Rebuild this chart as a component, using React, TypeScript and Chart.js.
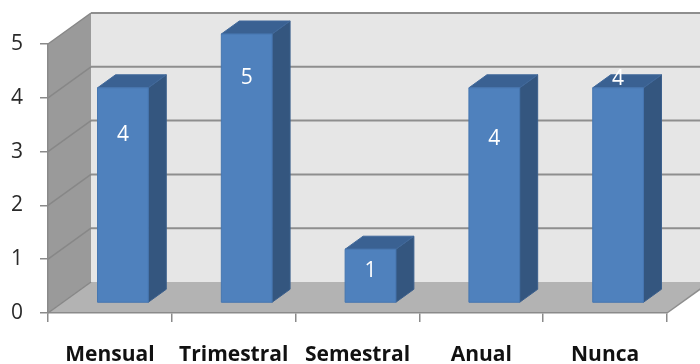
import React, { useEffect, useRef } from 'react';
import { Chart, registerables } from 'chart.js';

Chart.register(...registerables);

// ---- data ----
const categories = ['Mensual', 'Trimestral', 'Semestral', 'Anual', 'Nunca'];
const counts = [4, 5, 1, 4, 4];
const yTickValues = [0, 1, 2, 3, 4, 5];

// ---- 3D look ----
const WALL = { dx: 43, dy: -31 };        // depth of the box (floor / back wall)
const BAR_SHIFT = { dx: 13, dy: -10 };   // bars sit a little inside the box
const BAR_DEPTH = { dx: 18, dy: -13 };   // thickness of each column
const LABEL_DROP = [47, 44, 22, 51, -9]; // where each value label sits below the column top

const FONT = "'Open Sans', 'Liberation Sans', sans-serif";

type Pt = [number, number];

function fillPoly(ctx: CanvasRenderingContext2D, pts: Pt[], fill: string, stroke?: string, lw = 1) {
  ctx.beginPath();
  ctx.moveTo(pts[0][0], pts[0][1]);
  for (let i = 1; i < pts.length; i++) ctx.lineTo(pts[i][0], pts[i][1]);
  ctx.closePath();
  ctx.fillStyle = fill;
  ctx.fill();
  if (stroke) {
    ctx.strokeStyle = stroke;
    ctx.lineWidth = lw;
    ctx.stroke();
  }
}

function line(ctx: CanvasRenderingContext2D, a: Pt, b: Pt, color: string, lw: number) {
  ctx.beginPath();
  ctx.moveTo(a[0], a[1]);
  ctx.lineTo(b[0], b[1]);
  ctx.strokeStyle = color;
  ctx.lineWidth = lw;
  ctx.stroke();
}

const wallsPlugin = {
  id: 'walls3d',
  beforeDraw(chart: any) {
    const { ctx, chartArea, scales } = chart;
    const y = scales.y;
    const L = chartArea.left;
    const R = chartArea.right;
    const T = y.getPixelForValue(y.max);
    const B = y.getPixelForValue(0);
    const { dx, dy } = WALL;
    ctx.save();
    // side wall
    fillPoly(ctx, [[L, T], [L + dx, T + dy], [L + dx, B + dy], [L, B]], '#9a9a9a');
    // back wall
    fillPoly(ctx, [[L + dx, T + dy], [R + dx, T + dy], [R + dx, B + dy], [L + dx, B + dy]], '#e6e6e6');
    // floor
    fillPoly(ctx, [[L, B], [R, B], [R + dx, B + dy], [L + dx, B + dy]], '#b3b3b3');
    // gridlines on the walls
    y.ticks.forEach((t: any) => {
      const py = y.getPixelForValue(t.value);
      if (t.value > 0) line(ctx, [L + dx, py + dy], [R + dx + 2, py + dy], '#8e8e8e', 2);
      line(ctx, [L, py], [L + dx, py + dy], '#878787', 1.5);
    });
    line(ctx, [R, B], [R + dx, B + dy], '#8e8e8e', 1.5);
    ctx.restore();
  },
};

const columnsPlugin = {
  id: 'columns3d',
  afterDatasetsDraw(chart: any) {
    const { ctx } = chart;
    const meta = chart.getDatasetMeta(0);
    const values = chart.data.datasets[0].data as number[];
    ctx.save();
    meta.data.forEach((bar: any, i: number) => {
      const { x, y, base, width } = bar.getProps(['x', 'y', 'base', 'width'], true);
      const l = x - width / 2 + BAR_SHIFT.dx;
      const r = x + width / 2 + BAR_SHIFT.dx;
      const t = y + BAR_SHIFT.dy;
      const b = base + BAR_SHIFT.dy;
      const { dx, dy } = BAR_DEPTH;
      // right face
      fillPoly(ctx, [[r, t], [r + dx, t + dy], [r + dx, b + dy], [r, b]], '#34567f', '#3b5f8c', 1);
      // top face
      fillPoly(ctx, [[l, t], [l + dx, t + dy], [r + dx, t + dy], [r, t]], '#3a6192', '#41699b', 1);
      // front face
      fillPoly(ctx, [[l, t], [r, t], [r, b], [l, b]], '#4f81bd', '#4676b0', 1);

      // value label
      ctx.fillStyle = '#ffffff';
      ctx.font = `500 21px ${FONT}`;
      ctx.textAlign = 'center';
      ctx.textBaseline = 'middle';
      ctx.fillText(String(values[i]), (l + r) / 2, t + LABEL_DROP[i]);
    });
    ctx.restore();
  },
};

export default function App() {
  const canvasRef = useRef<HTMLCanvasElement | null>(null);

  useEffect(() => {
    const canvas = canvasRef.current;
    if (!canvas) return;
    const chart = new Chart(canvas, {
      type: 'bar',
      data: {
        labels: categories,
        datasets: [
          {
            label: 'Frecuencia',
            data: counts,
            backgroundColor: 'rgba(0,0,0,0)',
            borderWidth: 0,
            categoryPercentage: 1,
            barPercentage: 0.41,
          },
        ],
      },
      options: {
        responsive: false,
        animation: false,
        devicePixelRatio: 1,
        events: [],
        layout: { padding: { top: 44, right: 33, left: 0, bottom: 0 } },
        plugins: {
          legend: { display: false },
          tooltip: { enabled: false },
          title: { display: false },
        },
        scales: {
          x: {
            offset: true,
            grid: {
              offset: true,
              drawOnChartArea: false,
              drawTicks: true,
              tickLength: 9,
              color: '#8a8a8a',
              lineWidth: 1.5,
            },
            border: { color: '#8a8a8a', width: 1.5 },
            ticks: {
              autoSkip: false,
              maxRotation: 0,
              padding: 20,
              color: '#111111',
              font: { family: FONT, size: 21, weight: 'bold' },
            },
            afterFit: (scale: any) => {
              scale.height = 51;
            },
          },
          y: {
            min: 0,
            max: 5,
            afterBuildTicks: (scale: any) => {
              scale.ticks = yTickValues.map((v) => ({ value: v }));
            },
            grid: {
              drawOnChartArea: false,
              drawTicks: true,
              tickLength: 8,
              color: '#8a8a8a',
              lineWidth: 1.5,
            },
            border: { color: '#8a8a8a', width: 1.5 },
            ticks: {
              padding: 17,
              color: '#2a2a2a',
              font: { family: FONT, size: 21 },
            },
            afterFit: (scale: any) => {
              scale.width = 48;
            },
          },
        },
      },
      plugins: [wallsPlugin, columnsPlugin],
    });
    return () => chart.destroy();
  }, []);

  return (
    <div style={{ position: 'absolute', left: 0, top: 0, width: 700, height: 364, background: '#ffffff' }}>
      <canvas ref={canvasRef} width={700} height={364} style={{ display: 'block' }} />
    </div>
  );
}
